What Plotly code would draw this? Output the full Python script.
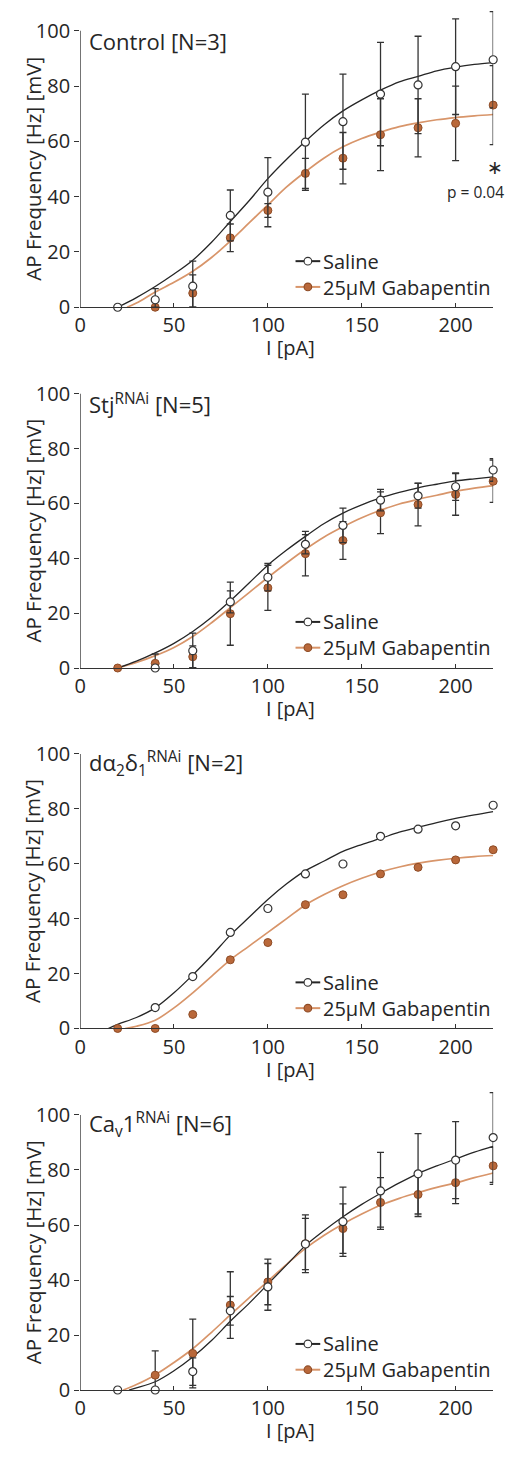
import plotly.graph_objects as go

W, H = 507, 1461

# ---------------------------------------------------------------- data
I_pA = [20, 40, 60, 80, 100, 120, 140, 160, 180, 200, 220]

# Control [N=3]
ctrl_saline = [0, 2.7, 7.6, 33.2, 41.6, 59.7, 67.1, 77.1, 80.4, 87.0, 89.5]
ctrl_saline_err = [0, 4.0, 9.1, 9.2, 12.5, 17.4, 17.2, 18.7, 17.6, 17.3, 17.4]
ctrl_gaba = [None, 0, 5.1, 25.1, 35.0, 48.4, 53.9, 62.4, 64.9, 66.5, 73.1]
ctrl_gaba_err = [0, 0, 6.6, 5.0, 2.5, 5.4, 9.3, 13.0, 10.5, 13.5, 14.3]

# Stj RNAi [N=5]
stj_saline = [None, 0, 6.3, 24.1, 33.1, 45.1, 52.0, 61.2, 62.8, 66.1, 72.2]
stj_saline_err = [0, 0, 6.4, 4.0, 5.0, 3.5, 6.3, 3.9, 4.5, 5.0, 4.1]
stj_gaba = [0, 1.7, 4.1, 19.8, 29.2, 41.7, 46.5, 56.6, 59.6, 63.3, 68.1]
stj_gaba_err = [0, 3.4, 4.0, 11.5, 8.2, 8.1, 6.9, 7.6, 7.8, 7.6, 7.7]

# d-alpha2-delta1 RNAi [N=2] (no error bars)
dad_saline = [None, 7.6, 18.9, 35.0, 43.7, 56.3, 59.9, 70.0, 72.6, 73.8, 81.3]
dad_gaba = [0, 0, 5.1, 25.0, 31.3, 45.1, 48.7, 56.3, 58.7, 61.4, 65.1]

# Cav1 RNAi [N=6]
cav_saline = [0, 0, 6.7, 28.8, 37.5, 53.1, 61.2, 72.4, 78.6, 83.6, 91.8]
cav_saline_err = [0, 0, 5.0, 5.2, 8.5, 9.3, 12.6, 14.0, 14.6, 14.0, 16.3]
cav_gaba = [None, 5.4, 13.3, 30.9, 39.3, 53.2, 58.7, 68.2, 71.1, 75.4, 81.5]
cav_gaba_err = [0, 8.8, 12.5, 12.1, 8.3, 10.5, 9.0, 9.0, 8.0, 7.6, 6.7]

# Boltzmann fit curves, sampled every 10 pA from where each fit leaves 0 Hz
FIT_GRID = [30, 40, 50, 60, 70, 80, 90, 100, 110, 120, 130, 140, 150,
            160, 170, 180, 190, 200, 210, 220]

ctrl_saline_fit_I = [20] + FIT_GRID
ctrl_saline_fit = [0, 3.5, 7.5, 12, 17, 23.5, 31, 38.5, 46.5, 53.5, 60, 66, 71,
                   75, 78.5, 81.5, 83.5, 85.5, 86.8, 87.8, 88.5]
ctrl_gaba_fit_I = [25] + FIT_GRID
ctrl_gaba_fit = [0, 1.5, 5.5, 9, 13, 18, 24, 30.5, 37, 43.5, 49, 54, 58, 61,
                 63.3, 65.3, 66.7, 67.8, 68.6, 69.2, 69.7]

stj_saline_fit_I = [20] + FIT_GRID
stj_saline_fit = [0, 2.5, 5.5, 9, 13.3, 18.5, 24.5, 31, 37.5, 43, 48, 52.7,
                  56.5, 59.5, 62, 64, 65.7, 67, 68.2, 69, 69.7]
stj_gaba_fit_I = [20] + FIT_GRID
stj_gaba_fit = [0, 2, 4.5, 7.5, 11.5, 16.5, 22, 27.5, 33, 38.3, 43.3, 47.8,
                51.5, 54.8, 57.5, 59.8, 61.5, 63, 64.5, 65.6, 66.5]

dad_saline_fit_I = [15, 20] + FIT_GRID
dad_saline_fit = [0, 1.5, 4, 7.5, 13, 19.5, 26.5, 34, 40.5, 47, 52.7, 57.5, 61,
                  64.5, 67, 69.2, 71.5, 73.3, 75, 76.5, 77.8, 79]
dad_gaba_fit_I = [24] + FIT_GRID
dad_gaba_fit = [0, 0.8, 3, 7.5, 13, 19, 25, 30, 35, 40, 45, 48.8, 52, 54.7,
                57, 58.8, 60.2, 61.2, 62, 62.6, 63]

cav_saline_fit_I = [26] + FIT_GRID
cav_saline_fit = [0, 0.8, 3, 7, 12, 18, 25, 31.5, 38.5, 45.5, 52.5, 58, 63,
                  67.5, 71.5, 75.3, 78.7, 81.5, 84, 86.5, 88.6]
cav_gaba_fit_I = [23] + FIT_GRID
cav_gaba_fit = [0, 2, 5.5, 10, 15, 21, 27.3, 33.5, 39.6, 45.7, 51.5, 56.3,
                60.4, 64, 67.2, 69.7, 71.8, 73.7, 75.3, 77.2, 78.9]

X_TICKS = [0, 50, 100, 150, 200]
Y_TICKS = [0, 20, 40, 60, 80, 100]
X_MAX = 220
Y_TOP = 100      # top of the drawn y axis
Y_ROOM = 110     # extra head-room so tall error bars are not cut

panels = [
    dict(title="Control [N=3]",
         sal=ctrl_saline, sal_err=ctrl_saline_err,
         gab=ctrl_gaba, gab_err=ctrl_gaba_err,
         sal_fit=(ctrl_saline_fit_I, ctrl_saline_fit),
         gab_fit=(ctrl_gaba_fit_I, ctrl_gaba_fit)),
    dict(title="Stj<sup>RNAi</sup> [N=5]",
         sal=stj_saline, sal_err=stj_saline_err,
         gab=stj_gaba, gab_err=stj_gaba_err,
         sal_fit=(stj_saline_fit_I, stj_saline_fit),
         gab_fit=(stj_gaba_fit_I, stj_gaba_fit)),
    dict(title="dα<sub>2</sub>δ<sub>1</sub><sup>RNAi</sup> [N=2]",
         sal=dad_saline, sal_err=None,
         gab=dad_gaba, gab_err=None,
         sal_fit=(dad_saline_fit_I, dad_saline_fit),
         gab_fit=(dad_gaba_fit_I, dad_gaba_fit)),
    dict(title="Ca<sub>v</sub>1<sup>RNAi</sup> [N=6]",
         sal=cav_saline, sal_err=cav_saline_err,
         gab=cav_gaba, gab_err=cav_gaba_err,
         sal_fit=(cav_saline_fit_I, cav_saline_fit),
         gab_fit=(cav_gaba_fit_I, cav_gaba_fit)),
]

# ---------------------------------------------------------------- style
FONT = "Open Sans"
INK = "#262626"
AXIS = "#333333"
SAL_LINE = "#262626"
GAB_LINE = "#D8956A"
GAB_FILL = "#B9683A"
GAB_EDGE = "#8E4B25"

# plot areas in pixels: left/right edges and (y=100, y=0) rows of each panel
PX_LEFT, PX_RIGHT = 75, 493
PANEL_PX = [(31, 310), (397.3, 674), (760.7, 1037.7), (1125, 1402.5)]


def fx(px):
    return px / W


def fy(py):
    return min(1.0, max(0.0, 1 - py / H))


def err_dict(vals, err):
    if err is None:
        return None
    minus = [0 if v is None else min(e, v) for v, e in zip(vals, err)]
    return dict(type="data", symmetric=False, array=err, arrayminus=minus,
                color=AXIS, thickness=1.3, width=3.5)


fig = go.Figure()
layout = dict(
    width=W, height=H,
    margin=dict(l=0, r=0, t=0, b=0),
    paper_bgcolor="white", plot_bgcolor="white",
    showlegend=False,
    font=dict(family=FONT, size=20, color=INK),
)
annotations = []
shapes = []

for k, p in enumerate(panels):
    n = "" if k == 0 else str(k + 1)
    xa, ya = "x" + n, "y" + n
    top, bot = PANEL_PX[k]
    px_per_unit = (bot - top) / Y_TOP
    dom_top = bot - px_per_unit * Y_ROOM

    layout["xaxis" + n] = dict(
        domain=[fx(PX_LEFT), fx(PX_RIGHT)], range=[0, X_MAX], anchor=ya,
        showline=True, linecolor=AXIS, linewidth=1.3,
        ticks="inside", ticklen=4, tickwidth=1.3, tickcolor=AXIS,
        tickvals=X_TICKS, tickfont=dict(size=20, color=INK),
        showgrid=False, zeroline=False, fixedrange=True,
    )
    layout["yaxis" + n] = dict(
        domain=[fy(bot), fy(dom_top)], range=[0, Y_ROOM], anchor=xa,
        showline=False,
        ticks="outside", ticklen=5, tickwidth=1.3, tickcolor=AXIS,
        tickvals=Y_TICKS, tickfont=dict(size=20, color=INK),
        showgrid=False, zeroline=False, fixedrange=True,
    )
    # y axis spine runs only from 0 to 100
    shapes.append(dict(type="line", xref=xa, yref=ya, x0=0, x1=0,
                       y0=0, y1=Y_TOP, line=dict(color=AXIS, width=1.3),
                       layer="above"))

    # fitted curves
    fig.add_trace(go.Scatter(
        x=p["gab_fit"][0], y=p["gab_fit"][1], mode="lines",
        line=dict(color=GAB_LINE, width=1.7, shape="spline"),
        xaxis=xa, yaxis=ya, hoverinfo="skip", cliponaxis=False))
    fig.add_trace(go.Scatter(
        x=p["sal_fit"][0], y=p["sal_fit"][1], mode="lines",
        line=dict(color=SAL_LINE, width=1.3, shape="spline"),
        xaxis=xa, yaxis=ya, hoverinfo="skip", cliponaxis=False))

    # mean +/- SEM
    fig.add_trace(go.Scatter(
        x=I_pA, y=p["gab"], mode="markers", name="25µM Gabapentin",
        marker=dict(size=8, color=GAB_FILL, line=dict(color=GAB_EDGE, width=1)),
        error_y=err_dict(p["gab"], p["gab_err"]),
        xaxis=xa, yaxis=ya, cliponaxis=False))
    fig.add_trace(go.Scatter(
        x=I_pA, y=p["sal"], mode="markers", name="Saline",
        marker=dict(size=8, color="white", line=dict(color=AXIS, width=1.2)),
        error_y=err_dict(p["sal"], p["sal_err"]),
        xaxis=xa, yaxis=ya, cliponaxis=False))

    # panel title
    annotations.append(dict(
        text=p["title"], xref="paper", yref="paper",
        x=fx(82), y=fy(top + 10), xanchor="left", yanchor="middle",
        showarrow=False, font=dict(size=22, color=INK)))
    # axis titles
    annotations.append(dict(
        text="AP Frequency [Hz] [mV]", xref="paper", yref="paper",
        x=fx(27), y=fy((top + bot) / 2), xanchor="center", yanchor="middle",
        textangle=-90, showarrow=False, font=dict(size=20.5, color=INK)))
    annotations.append(dict(
        text="I [pA]", xref="paper", yref="paper",
        x=fx(288), y=fy(bot + 41), xanchor="center", yanchor="middle",
        showarrow=False, font=dict(size=20, color=INK)))

    # legend: two rows sharing one text block
    mid = bot - 33.5
    row_gap = 13
    rows = [(SAL_LINE, "white", AXIS, mid - row_gap),
            (GAB_LINE, GAB_FILL, GAB_EDGE, mid + row_gap)]
    for lc, fc, ec, ry in rows:
        shapes.append(dict(type="line", xref="paper", yref="paper",
                           x0=fx(293), x1=fx(318), y0=fy(ry), y1=fy(ry),
                           line=dict(color=lc, width=2)))
        shapes.append(dict(type="circle", xref="paper", yref="paper",
                           xsizemode="pixel", ysizemode="pixel",
                           xanchor=fx(305.5), yanchor=fy(ry),
                           x0=-3.8, x1=3.8, y0=-3.8, y1=3.8,
                           fillcolor=fc, line=dict(color=ec, width=1.1)))
    annotations.append(dict(
        text="Saline<br>25µM Gabapentin", xref="paper", yref="paper",
        x=fx(319), y=fy(mid), xanchor="left", yanchor="middle", align="left",
        showarrow=False, font=dict(size=20, color=INK)))

# significance marker on the control panel: star above the p value
annotations.append(dict(
    text="\u2217", xref="paper", yref="paper", x=fx(495), y=fy(169),
    xanchor="center", yanchor="middle", showarrow=False,
    font=dict(family="DejaVu Sans", size=19, color=INK)))
annotations.append(dict(
    text="p = 0.04", xref="paper", yref="paper", x=fx(506), y=fy(193.5),
    xanchor="right", yanchor="middle", showarrow=False,
    font=dict(size=15.5, color=INK)))

layout["annotations"] = annotations
layout["shapes"] = shapes
fig.update_layout(**layout)

fig.write_html("out.html")
